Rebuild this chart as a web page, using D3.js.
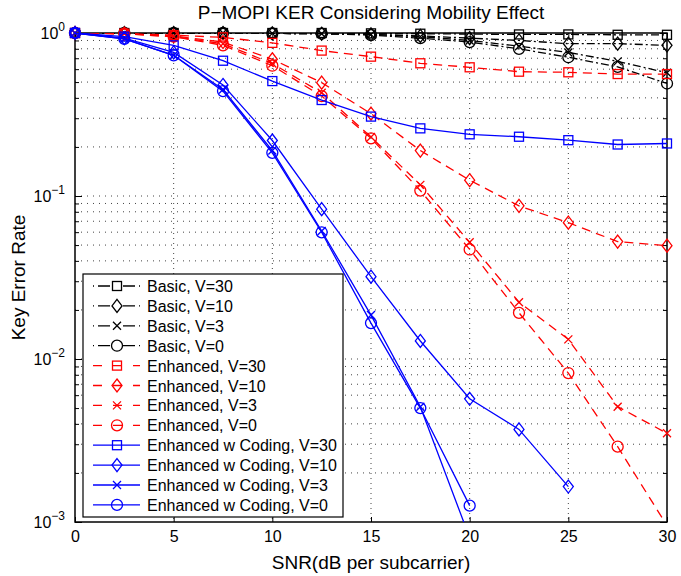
<!DOCTYPE html>
<html>
<head>
<meta charset="utf-8">
<script src="https://cdn.jsdelivr.net/npm/d3@7"></script>
<style>
  body { margin: 0; background: #fff; }
  svg text { font-family: "Liberation Sans", Arial, sans-serif; }
</style>
</head>
<body>
<div id="chart"></div>
<script>
// SNR points (dB per subcarrier)
const snr = [0, 2.5, 5, 7.5, 10, 12.5, 15, 17.5, 20, 22.5, 25, 27.5, 30];

// Basic scheme
const basicV30 = [1, 1, 1, 1, 1, 1, 0.995, 0.99, 0.985, 0.98, 0.98, 0.975, 0.975];
const basicV10 = [1, 1, 1, 1, 0.995, 0.99, 0.98, 0.96, 0.93, 0.9, 0.86, 0.86, 0.84];
const basicV3 = [1, 1, 1, 1, 0.995, 0.99, 0.98, 0.95, 0.9, 0.83, 0.76, 0.67, 0.57];
const basicV0 = [1, 1, 1, 1, 0.995, 0.99, 0.97, 0.93, 0.88, 0.8, 0.71, 0.62, 0.49];

// Enhanced scheme
const enhV30 = [1, 0.99, 0.97, 0.94, 0.87, 0.78, 0.716, 0.652, 0.616, 0.579, 0.574, 0.56, 0.56];
const enhV10 = [1, 0.99, 0.96, 0.88, 0.69, 0.496, 0.32, 0.19, 0.125, 0.087, 0.0686, 0.0525, 0.0496];
const enhV3 = [1, 0.99, 0.95, 0.86, 0.65, 0.43, 0.23, 0.117, 0.052, 0.0223, 0.0132, 0.0051, 0.0035];
const enhV0 = [1, 0.99, 0.95, 0.84, 0.63, 0.41, 0.226, 0.108, 0.047, 0.0192, 0.0082, 0.0029, 0.00095];

// Enhanced w Coding
const codV30 = [1, 0.95, 0.84, 0.676, 0.507, 0.388, 0.307, 0.26, 0.239, 0.231, 0.22, 0.207, 0.21];
const codV10 = [1, 0.93, 0.76, 0.48, 0.219, 0.083, 0.032, 0.0129, 0.0057, 0.0037, 0.00165];
const codV3 = [1, 0.92, 0.73, 0.45, 0.19, 0.061, 0.0186, 0.0051, 0.0008];
const codV0 = [1, 0.92, 0.73, 0.44, 0.184, 0.0599, 0.0166, 0.005, 0.00126];

const xTicks = [0, 5, 10, 15, 20, 25, 30];
const yTicks = [1, 0.1, 0.01, 0.001];
const yTickExp = ["0", "\u22121", "\u22122", "\u22123"];

const series = [
    { name: "Basic, V=30", values: basicV30, color: "#000", dash: "8,3,2,3", marker: "square" },
    { name: "Basic, V=10", values: basicV10, color: "#000", dash: "8,3,2,3", marker: "diamond" },
    { name: "Basic, V=3", values: basicV3, color: "#000", dash: "8,3,2,3", marker: "x" },
    { name: "Basic, V=0", values: basicV0, color: "#000", dash: "8,3,2,3", marker: "circle" },
    { name: "Enhanced, V=30", values: enhV30, color: "#ff0000", dash: "9,6", marker: "square" },
    { name: "Enhanced, V=10", values: enhV10, color: "#ff0000", dash: "9,6", marker: "diamond" },
    { name: "Enhanced, V=3", values: enhV3, color: "#ff0000", dash: "9,6", marker: "x" },
    { name: "Enhanced, V=0", values: enhV0, color: "#ff0000", dash: "9,6", marker: "circle" },
    { name: "Enhanced w Coding, V=30", values: codV30, color: "#0000ff", dash: null, marker: "square" },
    { name: "Enhanced w Coding, V=10", values: codV10, color: "#0000ff", dash: null, marker: "diamond" },
    { name: "Enhanced w Coding, V=3", values: codV3, color: "#0000ff", dash: null, marker: "x" },
    { name: "Enhanced w Coding, V=0", values: codV0, color: "#0000ff", dash: null, marker: "circle" }
];

var width = 681, height = 576;
var margin = { top: 33, right: 14, bottom: 54, left: 75 };
var w = width - margin.left - margin.right;
var h = height - margin.top - margin.bottom;

let svg = d3.select('#chart')
    .append('svg')
    .attr('width', width)
    .attr('height', height);

const x = d3.scaleLinear().domain([0, 30]).range([0, w]);
const y = d3.scaleLog().domain([0.001, 1]).range([h, 0]);

const g = svg.append('g').attr('transform', `translate(${margin.left},${margin.top})`);

svg.append('defs').append('clipPath').attr('id', 'plotclip')
    .append('rect').attr('width', w).attr('height', h);

// grid: vertical dotted at x ticks, horizontal at every log tick
const minorY = [];
for (let e = -3; e < 0; e++) {
    for (let k = 1; k <= 9; k++) minorY.push(k * Math.pow(10, e));
}
minorY.push(1);

g.append('g').selectAll('line')
    .data(xTicks.slice(1, -1))
    .enter().append('line')
    .attr('x1', d => x(d)).attr('x2', d => x(d))
    .attr('y1', 0).attr('y2', h)
    .attr('stroke', '#444').attr('stroke-width', 1)
    .attr('stroke-dasharray', '1,4');

g.append('g').selectAll('line')
    .data(minorY.filter(d => d > 0.001 && d < 1))
    .enter().append('line')
    .attr('x1', 0).attr('x2', w)
    .attr('y1', d => y(d)).attr('y2', d => y(d))
    .attr('stroke', '#444').attr('stroke-width', 1)
    .attr('stroke-dasharray', '1,5');

// axes
const xAxis = d3.axisBottom(x).tickValues(xTicks).tickSizeInner(-5).tickSizeOuter(0).tickPadding(9).tickFormat(d3.format('d'));
const xAxisTop = d3.axisTop(x).tickValues(xTicks).tickSizeInner(-5).tickSizeOuter(0).tickFormat('');
const yAxis = d3.axisLeft(y).tickValues(minorY).tickSizeInner(-5).tickSizeOuter(0).tickFormat('');
const yAxisRight = d3.axisRight(y).tickValues(minorY).tickSizeInner(-5).tickSizeOuter(0).tickFormat('');

g.append('g').attr('transform', `translate(0,${h})`).call(xAxis)
    .call(a => a.selectAll('text').attr('font-size', 16).attr('fill', '#000')
        .attr('font-family', '"Liberation Sans", Arial, sans-serif'));
g.append('g').call(xAxisTop);
g.append('g').call(yAxis)
    .call(a => a.selectAll('.tick line').attr('x2', d => yTicks.includes(d) ? 7 : 4));
g.append('g').attr('transform', `translate(${w},0)`).call(yAxisRight)
    .call(a => a.selectAll('.tick line').attr('x2', d => yTicks.includes(d) ? -7 : -4));
g.selectAll('.domain').remove();
g.selectAll('.tick line').attr('stroke', '#000');

// y labels 10^n
const yl = g.append('g').selectAll('text')
    .data(yTicks)
    .enter().append('text')
    .attr('x', -10)
    .attr('y', d => y(d) + 6)
    .attr('text-anchor', 'end')
    .attr('font-size', 16);
yl.append('tspan').text('10');
yl.append('tspan').attr('dy', -8).attr('font-size', 12).text((d, i) => yTickExp[i]);

// frame
g.append('rect').attr('width', w).attr('height', h)
    .attr('fill', 'none').attr('stroke', '#000').attr('stroke-width', 1.5);

// markers
function drawMarker(sel, type, color) {
    if (type === 'square') {
        sel.append('rect').attr('x', -4.5).attr('y', -4.5).attr('width', 9).attr('height', 9)
            .attr('fill', 'none').attr('stroke', color).attr('stroke-width', 1.3);
    } else if (type === 'diamond') {
        sel.append('path').attr('d', 'M0,-6.5L5,0L0,6.5L-5,0Z')
            .attr('fill', 'none').attr('stroke', color).attr('stroke-width', 1.3);
    } else if (type === 'circle') {
        sel.append('circle').attr('r', 5.5)
            .attr('fill', 'none').attr('stroke', color).attr('stroke-width', 1.3);
    } else {
        sel.append('path').attr('d', 'M-4,-4L4,4M-4,4L4,-4')
            .attr('fill', 'none').attr('stroke', color).attr('stroke-width', 1.3);
    }
}

const line = d3.line().x(d => x(d[0])).y(d => y(d[1]));

series.forEach(s => {
    const pts = s.values.map((v, i) => [snr[i], v]);
    g.append('path')
        .attr('d', line(pts))
        .attr('clip-path', 'url(#plotclip)')
        .attr('fill', 'none')
        .attr('stroke', s.color)
        .attr('stroke-width', 1.3)
        .attr('stroke-dasharray', s.dash);
    g.append('g').selectAll('g')
        .data(pts.filter(p => p[1] >= 0.001))
        .enter().append('g')
        .attr('transform', p => `translate(${x(p[0])},${y(p[1])})`)
        .each(function () { drawMarker(d3.select(this), s.marker, s.color); });
});

// legend
const lg = g.append('g').attr('transform', 'translate(8,241)');
lg.append('rect').attr('width', 260).attr('height', 243)
    .attr('fill', '#fff').attr('stroke', '#000').attr('stroke-width', 1.2);
series.forEach((s, i) => {
    const row = lg.append('g').attr('transform', `translate(0,${12 + i * 19.9})`);
    row.append('line').attr('x1', 10).attr('x2', 57).attr('y1', 0).attr('y2', 0)
        .attr('stroke', s.color).attr('stroke-width', 1.3)
        .attr('stroke-dasharray', s.dash ? (s.color === '#000' ? '1,4,12,13,12,4' : '9,11') : null);
    const m = row.append('g').attr('transform', 'translate(34,0)');
    drawMarker(m, s.marker, s.color);
    row.append('text').attr('x', 64).attr('y', 6).attr('font-size', 16).text(s.name);
});

// title and axis labels
svg.append('text').attr('x', margin.left + w / 2).attr('y', 19)
    .attr('text-anchor', 'middle').attr('font-size', 19)
    .text('P\u2212MOPI KER Considering Mobility Effect');
svg.append('text').attr('x', margin.left + w / 2).attr('y', 569)
    .attr('text-anchor', 'middle').attr('font-size', 19)
    .text('SNR(dB per subcarrier)');
svg.append('text').attr('transform', `translate(25,${margin.top + h / 2}) rotate(-90)`)
    .attr('text-anchor', 'middle').attr('font-size', 19)
    .text('Key Error Rate');
</script>
</body>
</html>
